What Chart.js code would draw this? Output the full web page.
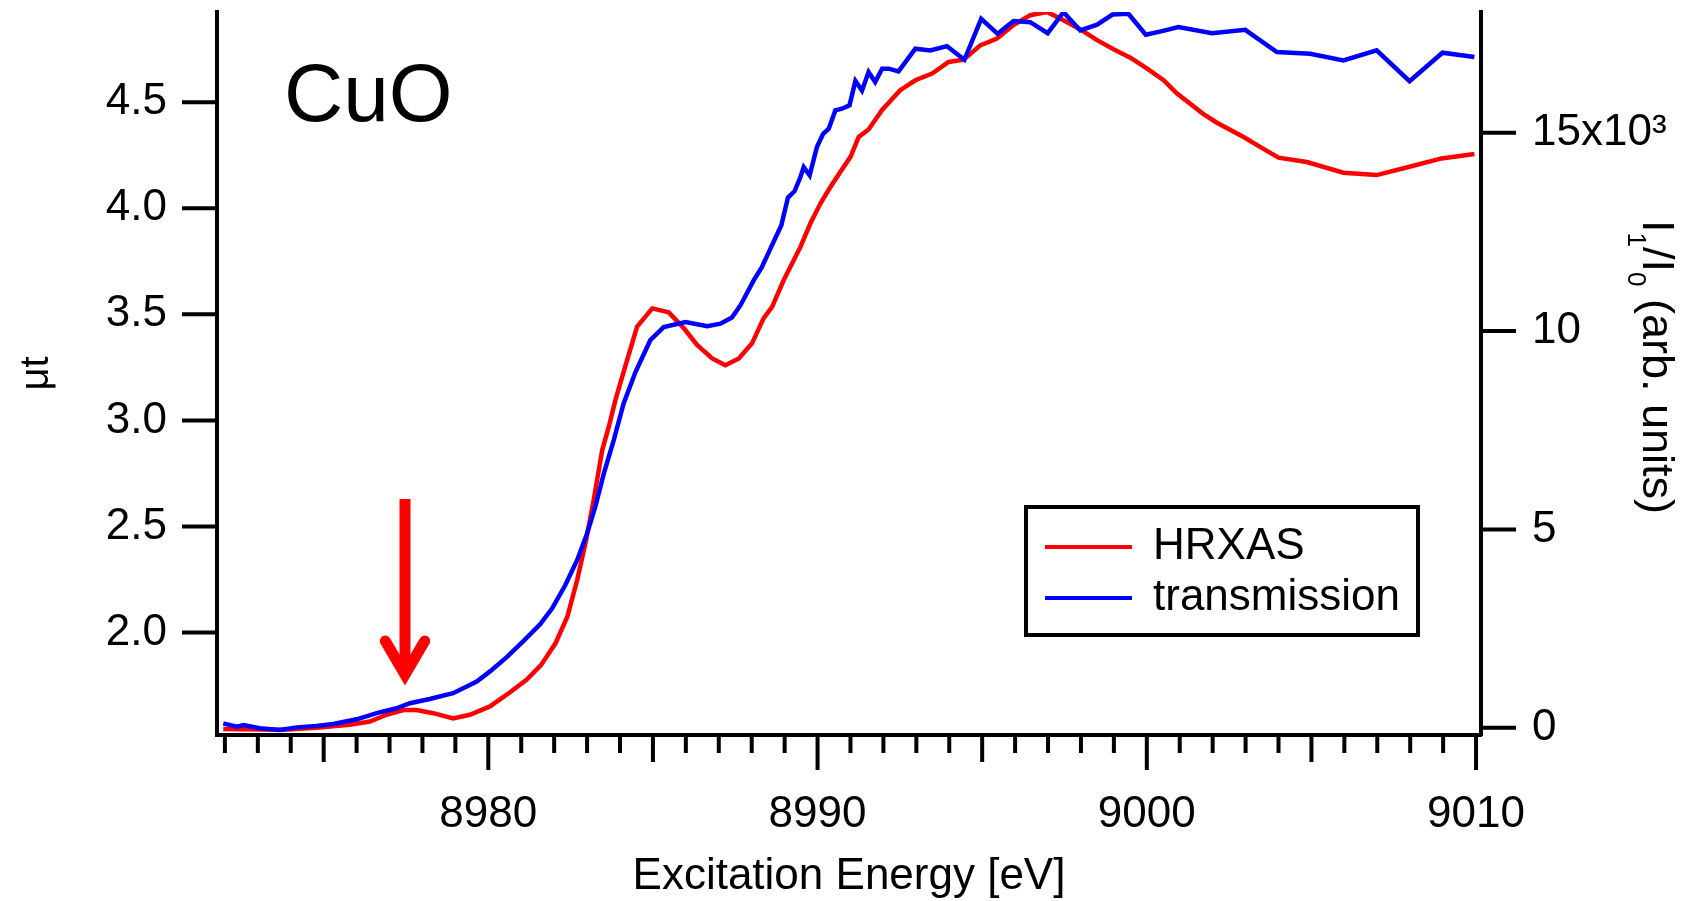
<!DOCTYPE html>
<html>
<head>
<meta charset="utf-8">
<title>CuO Cu K-edge</title>
<script src="https://cdn.jsdelivr.net/npm/chart.js@4.4.1/dist/chart.umd.min.js"></script>
<style>
  html, body { margin: 0; padding: 0; background: #fff; }
  #wrap { width: 1681px; height: 901px; }
</style>
</head>
<body>
<div id="wrap"><canvas id="myChart"></canvas></div>
<script>
// HRXAS, I1/I0 in units of 10^3 (right axis)
const hrxasEnergy = [8971.95, 8973.77, 8974.78, 8975.79, 8976.40, 8976.91, 8977.42, 8977.82, 8978.33, 8978.93,
  8979.44, 8980.05, 8980.65, 8981.16, 8981.60, 8982.04, 8982.40, 8982.70, 8982.95, 8983.20,
  8983.46, 8983.66, 8983.86, 8984.17, 8984.52, 8984.98, 8985.48, 8985.94, 8986.34, 8986.80,
  8987.20, 8987.61, 8988.01, 8988.36, 8988.62, 8988.97, 8989.48, 8989.78, 8990.09, 8990.39,
  8990.69, 8991.00, 8991.25, 8991.55, 8991.96, 8992.51, 8992.97, 8993.48, 8993.98, 8994.44,
  8994.94, 8995.45, 8995.95, 8996.46, 8996.97, 8997.47, 8997.98, 8998.49, 8998.99, 8999.50,
  9000.00, 9000.51, 9000.91, 9001.70, 9002.13, 9002.94, 9003.44, 9004.00, 9004.86, 9005.97,
  9006.98, 9007.89, 9008.95, 9009.95];
const hrxasSignal = [-0.03, -0.05, 0.00, 0.08, 0.16, 0.33, 0.45, 0.45, 0.37, 0.24,
  0.33, 0.54, 0.89, 1.21, 1.58, 2.13, 2.80, 3.73, 4.65, 5.74,
  7.00, 7.59, 8.26, 9.14, 10.11, 10.57, 10.47, 10.07, 9.65, 9.31,
  9.14, 9.31, 9.69, 10.32, 10.61, 11.28, 12.12, 12.71, 13.22, 13.63,
  14.01, 14.39, 14.89, 15.08, 15.57, 16.07, 16.32, 16.49, 16.78, 16.84,
  17.20, 17.37, 17.71, 17.96, 18.04, 17.83, 17.60, 17.33, 17.10, 16.89,
  16.62, 16.32, 15.99, 15.48, 15.25, 14.89, 14.64, 14.37, 14.26, 13.99,
  13.93, 14.12, 14.35, 14.46];

// transmission, mu*t (left axis)
const transEnergy = [8971.95, 8972.36, 8972.56, 8973.06, 8973.67, 8974.18, 8974.78, 8975.29, 8976.00, 8976.61,
  8977.21, 8977.62, 8978.22, 8978.93, 8979.44, 8979.66, 8980.06, 8980.57, 8981.08, 8981.58,
  8981.94, 8982.34, 8982.70, 8983.00, 8983.25, 8983.51, 8983.81, 8984.11, 8984.47, 8984.92,
  8985.33, 8985.99, 8986.65, 8987.05, 8987.40, 8987.66, 8988.06, 8988.30, 8988.60, 8988.90,
  8989.10, 8989.30, 8989.48, 8989.58, 8989.76, 8989.98, 8990.17, 8990.34, 8990.54, 8990.74,
  8990.97, 8991.15, 8991.35, 8991.55, 8991.75, 8991.96, 8992.16, 8992.46, 8992.97, 8993.42,
  8993.93, 8994.46, 8994.97, 8995.47, 8995.95, 8996.46, 8996.99, 8997.47, 8997.98, 8998.49,
  8998.96, 8999.44, 8999.97, 9000.46, 9000.96, 9001.98, 9002.99, 9003.95, 9004.96, 9005.97,
  9006.98, 9007.98, 9008.98, 9009.95];
const transMuT = [1.572, 1.556, 1.564, 1.549, 1.541, 1.553, 1.560, 1.569, 1.591, 1.620,
  1.643, 1.667, 1.687, 1.714, 1.753, 1.770, 1.818, 1.885, 1.962, 2.040,
  2.114, 2.224, 2.342, 2.467, 2.593, 2.750, 2.907, 3.080, 3.228, 3.378,
  3.440, 3.464, 3.444, 3.456, 3.485, 3.543, 3.660, 3.720, 3.820, 3.920,
  4.050, 4.080, 4.147, 4.194, 4.155, 4.288, 4.351, 4.375, 4.461, 4.469,
  4.485, 4.600, 4.555, 4.642, 4.595, 4.658, 4.658, 4.645, 4.752, 4.744,
  4.764, 4.700, 4.893, 4.822, 4.882, 4.877, 4.825, 4.924, 4.838, 4.865,
  4.913, 4.917, 4.818, 4.835, 4.854, 4.825, 4.841, 4.736, 4.728, 4.697,
  4.744, 4.599, 4.733, 4.713];

// tick labels
const xTicks = [8980, 8990, 9000, 9010];
const leftTicks = [2.0, 2.5, 3.0, 3.5, 4.0, 4.5];
const rightTicks = [0, 5, 10, 15];
const rightTickLabels = ['0', '5', '10', '15x10\u00b3'];

// pre-edge marker (energy, mu*t from top to tip)
const arrowEnergy = 8977.47;
const arrowFrom = 2.63;
const arrowTo = 1.75;

const FONT = '"Liberation Sans", Arial, Helvetica, sans-serif';
Chart.defaults.font.family = FONT;
Chart.defaults.color = '#000';

// fixed box sizes, no extra label padding
function fixBox(size) {
    return s => {
        if (s.isHorizontal()) s.height = size; else s.width = size;
        s.paddingTop = 0; s.paddingBottom = 0; s.paddingLeft = 0; s.paddingRight = 0;
    };
}

const tickMarks = {
    id: 'tickMarks',
    afterDraw(chart) {
        const { ctx, chartArea: a, scales } = chart;
        ctx.save();
        ctx.strokeStyle = '#000';
        ctx.lineWidth = 4;
        ctx.beginPath();
        for (let v = Math.ceil(scales.x.min); v <= scales.x.max; v++) {
            const px = scales.x.getPixelForValue(v);
            const len = v % 10 === 0 ? 35 : (v % 5 === 0 ? 27 : 18);
            ctx.moveTo(px, a.bottom);
            ctx.lineTo(px, a.bottom + len);
        }
        scales.y.ticks.forEach(t => {
            const py = scales.y.getPixelForValue(t.value);
            ctx.moveTo(a.left - 35, py);
            ctx.lineTo(a.left, py);
        });
        scales.y2.ticks.forEach(t => {
            const py = scales.y2.getPixelForValue(t.value);
            ctx.moveTo(a.right, py);
            ctx.lineTo(a.right + 35, py);
        });
        ctx.stroke();
        ctx.restore();
    }
};

const extras = {
    id: 'extras',
    afterDraw(chart) {
        const { ctx, scales } = chart;
        ctx.save();

        // arrow
        const ax = scales.x.getPixelForValue(arrowEnergy);
        const top = scales.y.getPixelForValue(arrowFrom);
        const tip = scales.y.getPixelForValue(arrowTo) - 11;
        ctx.strokeStyle = '#ff0000';
        ctx.lineWidth = 11;
        ctx.lineCap = 'butt';
        ctx.beginPath();
        ctx.moveTo(ax, top);
        ctx.lineTo(ax, tip);
        ctx.stroke();
        ctx.lineCap = 'round';
        ctx.lineJoin = 'miter';
        ctx.beginPath();
        ctx.moveTo(ax - 19.7, tip - 33.5);
        ctx.lineTo(ax, tip);
        ctx.lineTo(ax + 19.7, tip - 33.5);
        ctx.stroke();

        // sample label
        ctx.fillStyle = '#000';
        ctx.font = '82px ' + FONT;
        ctx.textBaseline = 'alphabetic';
        ctx.textAlign = 'left';
        ctx.fillText('CuO', 284, 121);

        // legend box
        ctx.lineWidth = 4;
        ctx.strokeStyle = '#000';
        ctx.strokeRect(1026, 507, 392, 128);
        ctx.font = '44px ' + FONT;
        ctx.textBaseline = 'middle';
        chart.data.datasets.forEach((ds, i) => {
            const y = 547 + i * 51;
            ctx.strokeStyle = ds.borderColor;
            ctx.lineWidth = 4;
            ctx.lineCap = 'butt';
            ctx.beginPath();
            ctx.moveTo(1045, y);
            ctx.lineTo(1132, y);
            ctx.stroke();
            ctx.fillText(ds.label, 1153, y);
        });

        // right axis title with subscripts
        const parts = [['I', 0], ['1', 1], ['/I', 0], ['0', 1], [' (arb. units)', 0]];
        const mainFont = '45px ' + FONT, subFont = '26px ' + FONT;
        let total = 0;
        parts.forEach(p => { ctx.font = p[1] ? subFont : mainFont; total += ctx.measureText(p[0]).width; });
        ctx.translate(1643, 367);
        ctx.rotate(Math.PI / 2);
        ctx.textBaseline = 'alphabetic';
        let x = -total / 2;
        parts.forEach(p => {
            ctx.font = p[1] ? subFont : mainFont;
            ctx.fillText(p[0], x, p[1] ? 15 : 0);
            x += ctx.measureText(p[0]).width;
        });
        ctx.restore();
    }
};

const ctx = document.getElementById('myChart').getContext('2d');
const chart = new Chart(ctx, {
    type: 'line',
    data: {
        datasets: [{
            label: 'HRXAS',
            data: hrxasEnergy.map((e, i) => ({ x: e, y: hrxasSignal[i] })),
            yAxisID: 'y2',
            borderColor: '#ff0000',
            borderWidth: 4.5,
            pointRadius: 0,
            tension: 0,
            order: 1
        }, {
            label: 'transmission',
            data: transEnergy.map((e, i) => ({ x: e, y: transMuT[i] })),
            yAxisID: 'y',
            borderColor: '#0000ff',
            borderWidth: 4.5,
            pointRadius: 0,
            tension: 0,
            order: 0
        }]
    },
    options: {
        responsive: true,
        maintainAspectRatio: false,
        animation: false,
        layout: { padding: { top: 12, left: 0, right: 0, bottom: 0 } },
        plugins: {
            legend: { display: false },
            tooltip: { enabled: false }
        },
        scales: {
            x: {
                type: 'linear',
                position: 'bottom',
                min: 8971.76,
                max: 9010.15,
                afterBuildTicks: s => { s.ticks = xTicks.map(v => ({ value: v })); },
                afterFit: fixBox(166),
                grid: { display: false, drawTicks: false },
                border: { display: true, color: '#000', width: 4 },
                ticks: { font: { size: 44 }, padding: 53, maxRotation: 0, autoSkip: false, callback: v => String(v) },
                title: { display: true, text: 'Excitation Energy [eV]', font: { size: 44, lineHeight: 1.1 }, padding: 0 }
            },
            y: {
                type: 'linear',
                position: 'left',
                min: 1.517,
                max: 4.925,
                afterBuildTicks: s => { s.ticks = leftTicks.map(v => ({ value: v })); },
                afterFit: fixBox(217),
                grid: { display: false, drawTicks: false },
                border: { display: true, color: '#000', width: 4 },
                ticks: { font: { size: 44 }, padding: 50, callback: v => v.toFixed(1) },
                title: { display: true, text: '\u03bct', font: { size: 40 }, padding: { top: 13, bottom: 0 } }
            },
            y2: {
                type: 'linear',
                position: 'right',
                min: -0.18,
                max: 18.04,
                afterBuildTicks: s => { s.ticks = rightTicks.map(v => ({ value: v })); },
                afterFit: fixBox(200),
                grid: { display: false, drawTicks: false },
                border: { display: true, color: '#000', width: 4 },
                ticks: { font: { size: 44 }, padding: 51, callback: (v, i) => rightTickLabels[i] }
            }
        }
    },
    plugins: [tickMarks, extras]
});
</script>
</body>
</html>
